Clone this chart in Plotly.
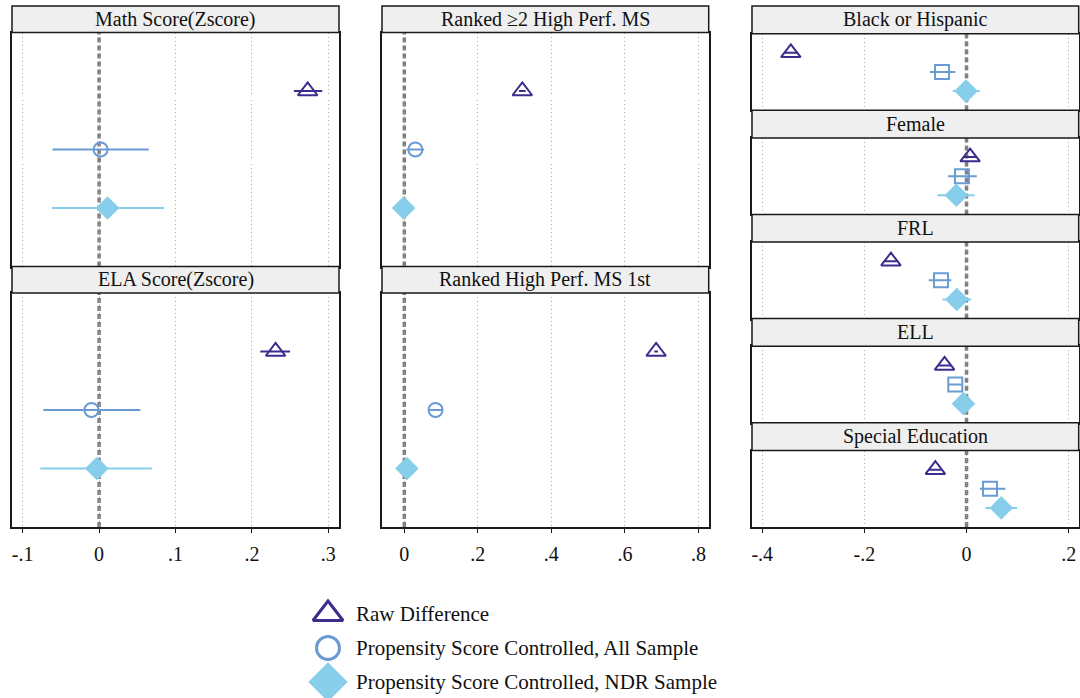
import plotly.graph_objects as go

W, H = 1080, 698
SERIF = "Liberation Serif, Times New Roman, serif"

# ---- series ----
SERIES = ["Raw Difference",
          "Propensity Score Controlled, All Sample",
          "Propensity Score Controlled, NDR Sample"]
ROWS = [1, 2, 3]

# ---- outcome panels: point estimates and confidence bounds per series ----
math_est = [0.273, 0.002, 0.011]
math_lo = [0.255, -0.061, -0.062]
math_hi = [0.292, 0.065, 0.085]

ela_est = [0.231, -0.010, -0.003]
ela_lo = [0.211, -0.073, -0.077]
ela_hi = [0.250, 0.054, 0.069]

rank2_est = [0.321, 0.030, -0.002]
rank2_lo = [0.312, 0.006, -0.010]
rank2_hi = [0.330, 0.054, 0.006]

rank1_est = [0.685, 0.085, 0.007]
rank1_lo = [0.680, 0.068, 0.000]
rank1_hi = [0.690, 0.103, 0.014]

# ---- demographic balance panels ----
black_est = [-0.344, -0.048, -0.001]
black_lo = [-0.356, -0.072, -0.027]
black_hi = [-0.332, -0.022, 0.026]

female_est = [0.007, -0.009, -0.020]
female_lo = [-0.005, -0.036, -0.057]
female_hi = [0.019, 0.020, 0.016]

frl_est = [-0.148, -0.050, -0.019]
frl_lo = [-0.160, -0.074, -0.047]
frl_hi = [-0.136, -0.030, 0.009]

ell_est = [-0.043, -0.022, -0.006]
ell_lo = [-0.055, -0.034, -0.014]
ell_hi = [-0.031, -0.010, 0.002]

sped_est = [-0.061, 0.046, 0.068]
sped_lo = [-0.073, 0.026, 0.037]
sped_hi = [-0.049, 0.076, 0.099]

# ---- tick labels ----
left_ticks = [-0.1, 0, 0.1, 0.2, 0.3]
left_ticktext = ["-.1", "0", ".1", ".2", ".3"]
mid_ticks = [0, 0.2, 0.4, 0.6, 0.8]
mid_ticktext = ["0", ".2", ".4", ".6", ".8"]
right_ticks = [-0.4, -0.2, 0, 0.2]
right_ticktext = ["-.4", "-.2", "0", ".2"]

REF_X = 0

# ---- styling ----
RAW_C = "#3B2C8E"
ALL_C = "#6A9BD2"
NDR_C = "#87CEEB"
HDR_FILL = "#EFEFEF"
FRAME_C = "#1A1A1A"
GRID_C = "#A8A8A8"
TEXT_C = "#111111"

SYM_OUTCOME = ["triangle-up-open", "circle-open", "diamond"]
SYM_DEMO = ["triangle-up-open", "square-open", "diamond"]
MARKER_SIZES = [17, 14, 16]
COLORS = [RAW_C, ALL_C, NDR_C]

# column extents (pixels) and axis ranges
COLS = {
    "left": dict(x0=12, x1=339, rng=[-0.114, 0.314], tv=left_ticks, tt=left_ticktext),
    "mid": dict(x0=382, x1=708.7, rng=[-0.0607, 0.828], tv=mid_ticks, tt=mid_ticktext),
    "right": dict(x0=752, x1=1078.7, rng=[-0.420, 0.2196], tv=right_ticks, tt=right_ticktext),
}

TOP = 6
BOTTOM = 527


def stack(n, top=TOP, bottom=BOTTOM, hdr=27):
    """Split a column into n (header, plot) pixel bands."""
    step = (bottom - top) / n
    out = []
    for i in range(n):
        t = top + i * step
        out.append((t, t + hdr, t + step))
    return out


two = stack(2, hdr=26.5)
five = stack(5, hdr=27.7)

panels = [
    ("Math Score(Zscore)", math_est, math_lo, math_hi, "left", two[0], False, SYM_OUTCOME),
    ("ELA Score(Zscore)", ela_est, ela_lo, ela_hi, "left", two[1], True, SYM_OUTCOME),
    ("Ranked \u22652 High Perf. MS", rank2_est, rank2_lo, rank2_hi, "mid", two[0], False, SYM_OUTCOME),
    ("Ranked High Perf. MS 1st", rank1_est, rank1_lo, rank1_hi, "mid", two[1], True, SYM_OUTCOME),
    ("Black or Hispanic", black_est, black_lo, black_hi, "right", five[0], False, SYM_DEMO),
    ("Female", female_est, female_lo, female_hi, "right", five[1], False, SYM_DEMO),
    ("FRL", frl_est, frl_lo, frl_hi, "right", five[2], False, SYM_DEMO),
    ("ELL", ell_est, ell_lo, ell_hi, "right", five[3], False, SYM_DEMO),
    ("Special Education", sped_est, sped_lo, sped_hi, "right", five[4], True, SYM_DEMO),
]

fig = go.Figure()
layout = {}
shapes = []
annotations = []

for i, (title, est, lo, hi, col, band, show_x, syms) in enumerate(panels, start=1):
    c = COLS[col]
    h_top, h_bot, p_bot = band
    xa = f"x{i}" if i > 1 else "x"
    ya = f"y{i}" if i > 1 else "y"
    xkey = f"xaxis{i}" if i > 1 else "xaxis"
    ykey = f"yaxis{i}" if i > 1 else "yaxis"

    layout[xkey] = dict(
        domain=[c["x0"] / W, c["x1"] / W], anchor=ya, range=c["rng"],
        tickvals=c["tv"], ticktext=c["tt"], showticklabels=show_x,
        ticks="outside" if show_x else "", ticklen=4, tickwidth=1, tickcolor=FRAME_C,
        ticklabelstandoff=4,
        tickfont=dict(family=SERIF, size=20, color=TEXT_C),
        showgrid=True, gridcolor=GRID_C, griddash="1px,3px", gridwidth=1,
        zeroline=False, showline=True, mirror=True, linecolor=FRAME_C, linewidth=1.5,
        fixedrange=True,
    )
    layout[ykey] = dict(
        domain=[1 - p_bot / H, 1 - h_bot / H], anchor=xa, range=[4, 0],
        showticklabels=False, ticks="", showgrid=False, zeroline=False,
        showline=True, mirror=True, linecolor=FRAME_C, linewidth=1.5, fixedrange=True,
    )

    # reference line at zero
    shapes.append(dict(type="line", xref=xa, yref=f"{ya} domain", x0=REF_X, x1=REF_X,
                       y0=0, y1=1, layer="below",
                       line=dict(color="#7F7F7F", width=3.5, dash="5px,3px")))
    # panel header strip
    shapes.append(dict(type="rect", xref="paper", yref="paper",
                       x0=c["x0"] / W, x1=c["x1"] / W, y0=1 - h_bot / H, y1=1 - h_top / H,
                       fillcolor=HDR_FILL, line=dict(color=FRAME_C, width=1.5), layer="above"))
    annotations.append(dict(text=title, xref="paper", yref="paper",
                            x=(c["x0"] + c["x1"]) / 2 / W, y=1 - (h_top + h_bot) / 2 / H,
                            xanchor="center", yanchor="middle", showarrow=False,
                            font=dict(family=SERIF, size=20, color=TEXT_C)))

    for k in range(3):
        fig.add_trace(go.Scatter(
            x=[est[k]], y=[ROWS[k]], xaxis=xa, yaxis=ya, mode="markers",
            showlegend=False, hoverinfo="x",
            error_x=dict(type="data", symmetric=False, array=[hi[k] - est[k]],
                         arrayminus=[est[k] - lo[k]], width=0, thickness=2,
                         color=COLORS[k]),
            marker=dict(symbol=syms[k], size=MARKER_SIZES[k], color=COLORS[k],
                        line=dict(width=2, color=COLORS[k])),
        ))

# ---- key below the panels ----
n = len(panels) + 1
lx, ly = f"x{n}", f"y{n}"
layout[f"xaxis{n}"] = dict(domain=[300 / W, 760 / W], range=[0, 460],
                           showgrid=False, zeroline=False, showticklabels=False,
                           showline=False, anchor=ly, fixedrange=True)
layout[f"yaxis{n}"] = dict(domain=[0, 100 / H], range=[2.47, -0.47],
                           showgrid=False, zeroline=False, showticklabels=False,
                           showline=False, anchor=lx, fixedrange=True)
KEY_SYMS = ["triangle-up-open", "circle-open", "diamond"]
KEY_SIZES = [26, 23, 27]
for k, name in enumerate(SERIES):
    fig.add_trace(go.Scatter(
        x=[28], y=[k], xaxis=lx, yaxis=ly, mode="markers", showlegend=False,
        hoverinfo="skip",
        marker=dict(symbol=KEY_SYMS[k], size=KEY_SIZES[k], color=COLORS[k],
                    line=dict(width=3, color=COLORS[k])),
    ))
    annotations.append(dict(text=name, xref=lx, yref=ly, x=54, y=k, xanchor="left",
                            yanchor="middle", showarrow=False,
                            font=dict(family=SERIF, size=21, color=TEXT_C)))

fig.update_layout(
    width=W, height=H, margin=dict(l=0, r=0, t=0, b=0),
    paper_bgcolor="white", plot_bgcolor="white",
    shapes=shapes, annotations=annotations, showlegend=False,
    **layout,
)

fig.write_html("out.html", config={"displayModeBar": False})
